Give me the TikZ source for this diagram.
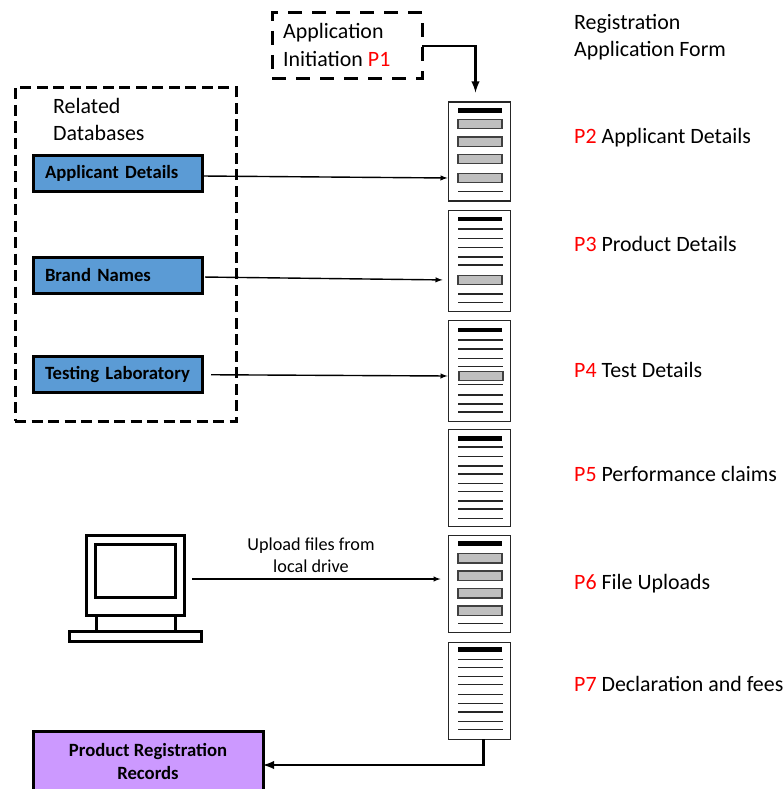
\documentclass[tikz,border=0pt]{standalone}
\usepackage{fontspec}
\setmainfont{Carlito}
\definecolor{dbblue}{HTML}{5B9BD5}
\definecolor{recpurple}{HTML}{CC99FF}
\definecolor{barfill}{HTML}{BFBFBF}
\definecolor{bardraw}{HTML}{404040}
\tikzset{
    formpage/.style={draw=black!85, line width=1.2pt, fill=white, minimum width=62pt, inner sep=0pt, outer sep=0pt},
    graybar/.style={draw=bardraw, line width=1.2pt, fill=barfill, minimum width=44pt, minimum height=9.5pt, inner sep=0pt, outer sep=0pt},
    dbbox/.style={draw=black, line width=3pt, fill=dbblue, minimum width=169pt, minimum height=36pt, text width=145pt, inner xsep=12pt, inner ysep=0pt, outer sep=0pt, align=left, font=\fontsize{18.7}{22}\selectfont\bfseries},
    label/.style={anchor=west, inner sep=0pt, align=left, font=\fontsize{21.9}{27.5}\selectfont},
    pcpart/.style={draw=black, line width=3pt, fill=white, inner sep=0pt, outer sep=0pt},
    link/.style={-latex, line width=1.4pt},
    heavylink/.style={-latex, line width=2.8pt},
}
\begin{document}
\begin{tikzpicture}[x=1pt, y=-1pt]
    \useasboundingbox (0,0) rectangle (783,789);
    \def\fx{479.5} % centre of the form column

    % Form pages
    \node[formpage, minimum height=99pt] (formA) at (\fx,151.5) {};
    \node[formpage, minimum height=101pt] (formB) at (\fx,261) {};
    \node[formpage, minimum height=101pt] (formC) at (\fx,371.3) {};
    \node[formpage, minimum height=97pt] (formD) at (\fx,478.3) {};
    \node[formpage, minimum height=97pt] (formE) at (\fx,584.2) {};
    \node[formpage, minimum height=97pt] (formF) at (\fx,690.6) {};

    % Title bars
    \foreach \y in {110.7,219,330,438.7,543.7,649.7} {
        \draw[line width=4.5pt] (458,\y) -- (501.5,\y);
    }

    % Text lines
    \foreach \y in {191.7,229,238.3,247.7,257,265,294,302.3,340,349,358.3,366.7,384.3,395,404,412,447,456.7,466,474,483.3,491.7,501,509,518.3,623.7,659.7,667.7,676.7,684.7,694.3,703.7,712,721.3,729.7} {
        \draw[line width=1.2pt, black!85] (458,\y) -- (502.5,\y);
    }

    % Filled fields
    \foreach \y [count=\i] in {124,141.7,159,178} {
        \node[graybar] (barA\i) at (480,\y) {};
    }
    \node[graybar] (barB) at (480,280) {};
    \node[graybar] (barC) at (481,376) {};
    \foreach \y [count=\i] in {558.3,575.7,593.3,610.7} {
        \node[graybar] (barE\i) at (480,\y) {};
    }

    % Initiation box
    \node[draw, line width=3pt, dash pattern=on 14pt off 10pt, minimum width=150pt, minimum height=66pt, outer sep=0pt] (initBox) at (347,46) {};
    \node[label] (initText) at (283,45) {Application\\Initiation \textcolor{red}{P1}};

    % Related databases
    \node[draw, line width=3pt, dash pattern=on 11pt off 5.5pt, minimum width=221pt, minimum height=333pt, outer sep=0pt] (dbGroup) at (125.5,254.5) {};
    \node[label] (dbText) at (53,119.5) {Related\\Databases};
    \node[dbbox] (dbA) at (117.5,173) {Applicant Details};
    \node[dbbox] (dbB) at (117.5,275) {Brand Names};
    \node[dbbox] (dbC) at (117.5,374.7) {Testing Laboratory};

    % Computer
    \node[pcpart, minimum width=79pt, minimum height=20pt] (pcNeck) at (135.6,623) {};
    \node[pcpart, minimum width=98pt, minimum height=80pt] (pcCase) at (135,575.7) {};
    \node[pcpart, minimum width=80pt, minimum height=53pt] (pcScreen) at (135.8,571.3) {};
    \node[pcpart, minimum width=132pt, minimum height=10pt] (pcBase) at (135,636.8) {};

    % Records
    \node[draw, line width=3pt, fill=recpurple, minimum width=230pt, minimum height=60pt, outer sep=0pt, align=center, font=\fontsize{18.7}{23}\selectfont\bfseries] (records) at (148,761) {Product Registration\\Records};

    % Right hand labels
    \node[label] (formTitle) at (574,37) {Registration\\Application Form};
    \node[label] (lblA) at (574,138) {\textcolor{red}{P2} Applicant Details};
    \node[label] (lblB) at (574,244) {\textcolor{red}{P3} Product Details};
    \node[label] (lblC) at (574,370) {\textcolor{red}{P4} Test Details};
    \node[label] (lblD) at (574,474) {\textcolor{red}{P5} Performance claims};
    \node[label] (lblE) at (574,584) {\textcolor{red}{P6} File Uploads};
    \node[label] (lblF) at (574,684) {\textcolor{red}{P7} Declaration and fees};

    % Connectors
    \draw[heavylink, shorten >=9.5pt] (initBox.east) -| ([xshift=-4pt]formA.north);
    \draw[link, shorten >=1pt] ([yshift=-3pt]dbA.east) -- (formA.west |- barA4.west);
    \draw[link, shorten <=3pt, shorten >=6pt] ([yshift=-2pt]dbB.east) -- (formB.west |- barB.west);
    \draw[link, shorten <=9pt, shorten >=1pt] (dbC.east) -- (formC.west |- barC.west);
    \draw[link, shorten <=8pt, shorten >=8pt] ([yshift=-3.3pt]pcCase.east) -- ([yshift=5.2pt]formE.west);
    \node[align=center, inner sep=0pt, font=\fontsize{18.2}{22.5}\selectfont] (uploadText) at (311,555) {Upload files from\\local drive};
    \draw[heavylink] ([xshift=4pt]formF.south) |- ([yshift=-4pt]records.east);
\end{tikzpicture}
\end{document}
